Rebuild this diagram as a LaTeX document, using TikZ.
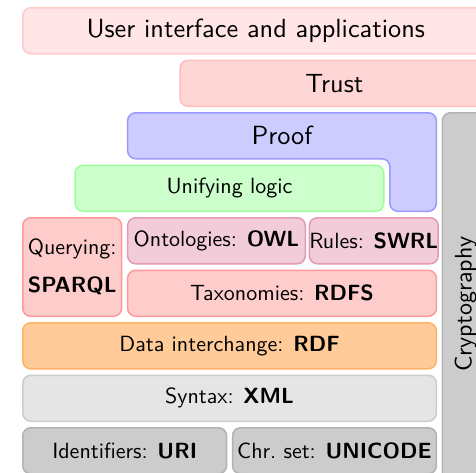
\documentclass[tikz,border=0pt]{standalone}
\usepackage{fontspec}
% the 10pt design of Latin Modern Sans, at every size
\setsansfont{lmsans10-regular}[Extension=.otf, BoldFont=lmsans10-bold]
\renewcommand\familydefault{\sfdefault}

% layer colours
\colorlet{uiFill}{red!10}      \colorlet{uiLine}{red!20}
\colorlet{trustFill}{red!16}   \colorlet{trustLine}{red!26}
\colorlet{proofFill}{blue!20}  \colorlet{proofLine}{blue!40}
\colorlet{logicFill}{green!20} \colorlet{logicLine}{green!40}
\colorlet{queryFill}{red!20}   \colorlet{queryLine}{red!40}
\colorlet{ontoFill}{purple!20} \colorlet{ontoLine}{purple!40}
\colorlet{rdfFill}{orange!40}  \colorlet{rdfLine}{orange!60}
\colorlet{xmlFill}{black!10}   \colorlet{xmlLine}{black!20}
\colorlet{baseFill}{black!20}  \colorlet{baseLine}{black!30}

\tikzset{
  smallfont/.style={font=\fontsize{22}{26}\selectfont},
  bigfont/.style={font=\fontsize{26.3}{31}\selectfont},
  cryptofont/.style={font=\fontsize{24}{28}\selectfont},
  layer/.style={draw, line width=1.5pt, rounded corners=8pt, inner sep=0pt,
                align=center, smallfont},
  biglayer/.style={layer, bigfont},
}

% \layerbox{name}{x1}{y1}{x2}{y2}{style}{text}: outer edges in px
\newcommand\layerbox[7]{%
  \node[layer, #6, minimum width={(#4-#2)*1pt-1.5pt},
        minimum height={(#5-#3)*1pt-1.5pt}]
    (#1) at ({(#2+#4)/2},{(#3+#5)/2}) {#7};}

\begin{document}
\begin{tikzpicture}[x=1pt, y=-1pt]
\useasboundingbox (0,0) rectangle (476,472);
\clip (0,0) rectangle (476,472);

% top layers
\layerbox{ui}{22}{7}{489.5}{54.5}{biglayer, fill=uiFill, draw=uiLine}{User interface and applications}
\layerbox{trust}{179.3}{59.5}{489.5}{107}{biglayer, fill=trustFill, draw=trustLine}{Trust}

% proof: an L-shaped layer wrapping the unifying logic
\path[draw=proofLine, fill=proofFill, line width=1.5pt, rounded corners=8pt]
  (127.65,112.75) -- (436.35,112.75) -- (436.35,211.25) -- (389.85,211.25)
  -- (389.85,158.75) -- (127.65,158.75) -- cycle;
\node[bigfont] (proof) at (282,135.75) {Proof};

% cryptography column
\layerbox{crypto}{441.6}{112}{489.5}{496}{biglayer, fill=baseFill, draw=baseLine}{}
\node[rotate=90, cryptofont] (cryptotext) at (crypto.center) {Cryptography};

\layerbox{logic}{74.4}{164.5}{384.6}{212}{fill=logicFill, draw=logicLine}{Unifying logic}

\layerbox{query}{22}{217}{122.4}{317}{fill=queryFill, draw=queryLine}{Querying:\\[12pt]\textbf{SPARQL}}
\layerbox{owl}{126.9}{217}{306}{264.5}{fill=ontoFill, draw=ontoLine}{Ontologies: \textbf{OWL}}
\layerbox{swrl}{310.5}{217}{437.1}{264.5}{fill=ontoFill, draw=ontoLine}{Rules: \textbf{SWRL}}
\layerbox{rdfs}{126.9}{269.5}{437.1}{317}{fill=queryFill, draw=queryLine}{Taxonomies: \textbf{RDFS}}

\layerbox{rdf}{22}{322}{437.1}{369.5}{fill=rdfFill, draw=rdfLine}{Data interchange: \textbf{RDF}}
\layerbox{xml}{22}{374.5}{437.1}{422}{fill=xmlFill, draw=xmlLine}{Syntax: \textbf{XML}}
\layerbox{uri}{22}{427}{227.3}{474.5}{fill=baseFill, draw=baseLine}{Identifiers: \textbf{URI}}
\layerbox{unicode}{231.8}{427}{437.1}{474.5}{fill=baseFill, draw=baseLine}{Chr.\ set: \textbf{UNICODE}}
\end{tikzpicture}
\end{document}
